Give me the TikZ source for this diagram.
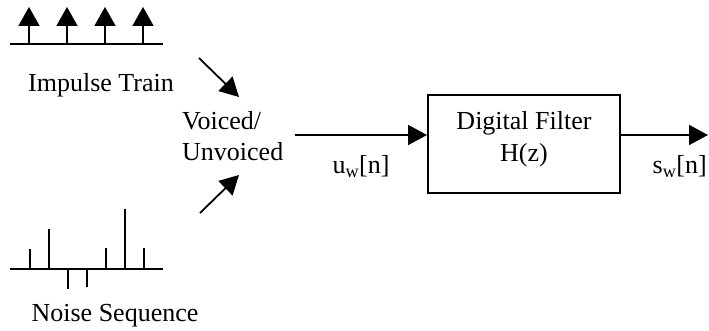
\documentclass[tikz,border=0pt]{standalone}
\usepackage{fontspec}
\setmainfont{Liberation Serif}
\usetikzlibrary{arrows.meta}
\begin{document}
\begin{tikzpicture}[x=1pt,y=-1pt,
  every node/.style={font=\fontsize{26}{30}\selectfont, inner sep=0pt},
  wire/.style={line width=1.8pt},
  flow/.style={wire, -{Triangle[length=19pt,width=20pt]}},
  pulse/.style={line width=1.8pt, -{Triangle[length=19pt,width=21pt]}},
  spike/.style={line width=1.8pt},
  filterbox/.style={draw, line width=2pt, minimum width=192pt, minimum height=98pt}]
\useasboundingbox (0,0) rectangle (709,331);

% impulse train
\draw[wire] (10,44) -- (163,44);
\foreach \x in {29,67,105,143}
  \draw[pulse] (\x,44) -- (\x,7);
\node[anchor=base] (imp) at (101,92) {Impulse Train};

% noise sequence
\draw[wire] (10,269) -- (163,269);
\foreach \x/\y in {30/249,49/229,68/289,87/287,106/248,125/209,144/248}
  \draw[spike] (\x,269) -- (\x,\y);
\node[anchor=base] (noise) at (115,321) {Noise Sequence};

% voiced/unvoiced switch
\node[anchor=base west] (sw1) at (182,130) {Voiced/};
\node[anchor=base west] (sw2) at (182,161) {Unvoiced};
\coordinate (a1) at (199,58);
\coordinate (a1e) at (239,97);
\coordinate (a2) at (200,213);
\coordinate (a2e) at (239,175);
\draw[flow] (a1) -- (a1e);
\draw[flow] (a2) -- (a2e);

% filter
\node[filterbox] (filt) at (524,144) {};
\node[anchor=base] (f1) at (524,130) {Digital Filter};
\node[anchor=base] (f2) at (524,162) {H(z)};
\coordinate (uin) at (295,135);
\coordinate (fin) at (filt.west |- uin);
\coordinate (fout) at (filt.east |- uin);
\coordinate (sout) at (708,135);
\draw[flow] (uin) -- (fin);
\draw[flow] (fout) -- (sout);
\node[anchor=base] (u) at (361,174) {u\textsubscript{w}[n]};
\node[anchor=base east] (s) at (707,174) {s\textsubscript{w}[n]};
\end{tikzpicture}
\end{document}
